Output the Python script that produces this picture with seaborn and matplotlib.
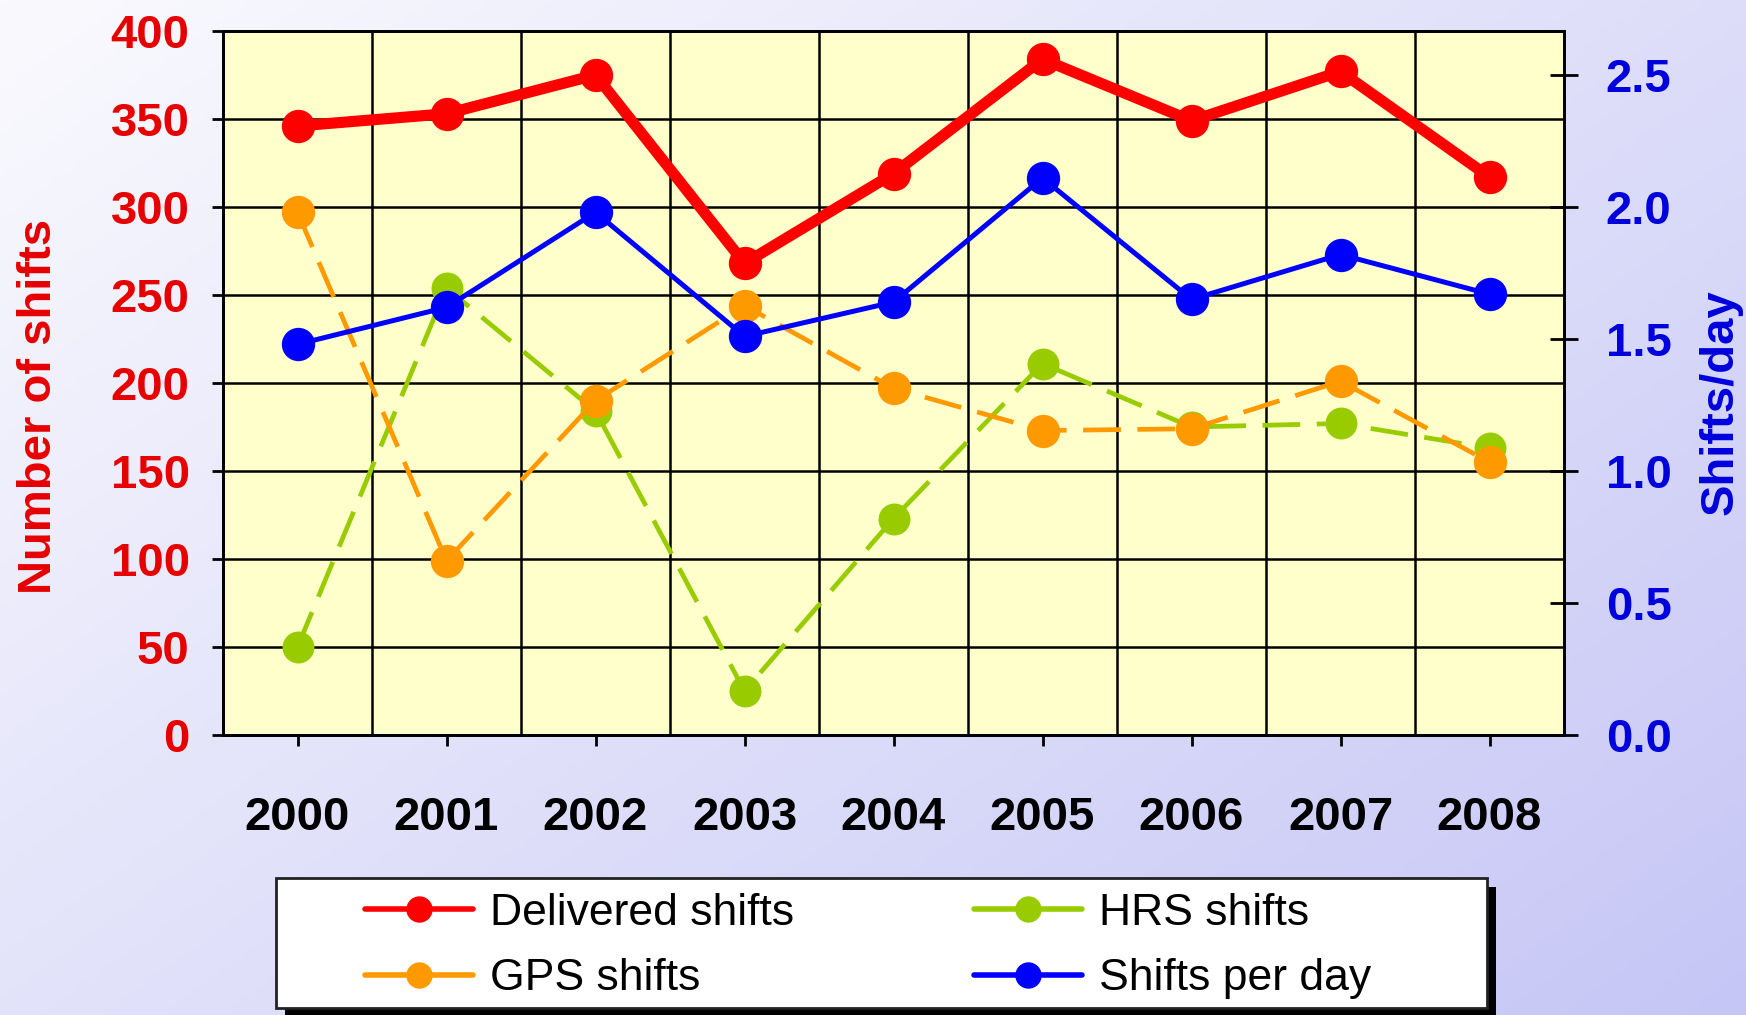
import numpy as np
import pandas as pd
import matplotlib
matplotlib.use("Agg")
import matplotlib.pyplot as plt
from matplotlib.patches import Rectangle
import seaborn as sns

sns.set_style("ticks")
plt.rcParams['font.family'] = ['Liberation Sans', 'DejaVu Sans']
plt.rcParams['text.color'] = 'black'
plt.rcParams['xtick.color'] = 'black'
plt.rcParams['ytick.color'] = 'black'

# datos
years = [2000, 2001, 2002, 2003, 2004, 2005, 2006, 2007, 2008]
delivered = [346, 353, 375, 268, 319, 384, 349, 377, 317]
gps = [297, 99, 190, 244, 197, 173, 174, 201, 155]
hrs = [50, 254, 184, 25, 123, 211, 175, 177, 163]
per_day = [1.48, 1.62, 1.98, 1.51, 1.64, 2.11, 1.65, 1.82, 1.67]

left_ticks = [0, 50, 100, 150, 200, 250, 300, 350, 400]
right_ticks = [0.0, 0.5, 1.0, 1.5, 2.0, 2.5]

df = pd.DataFrame({'year': years, 'delivered': delivered, 'gps': gps,
                   'hrs': hrs, 'per_day': per_day})

W, H = 1746, 1015
fig = plt.figure(figsize=(W / 100, H / 100), dpi=100)

# fondo degradado
bg = fig.add_axes([0, 0, 1, 1], zorder=-10)
bg.axis('off')
yy, xx = np.mgrid[0:1:300j, 0:1:300j]
t = 0.55 * xx + 0.45 * yy
c0 = np.array([250, 250, 254]) / 255
c1 = np.array([198, 198, 246]) / 255
bg.imshow(c0 + (c1 - c0) * t[..., None], extent=[0, 1, 0, 1],
          aspect='auto', origin='upper')

ax1 = fig.add_axes([223 / W, 1 - 735 / H, (1564 - 223) / W, (735 - 31) / H])
ax1.set_facecolor('#FFFFCC')
ax2 = ax1.twinx()

red = '#FF0000'
orange = '#FF9900'
green = '#99CC00'
blue = '#0000FF'
dash = (0, (8, 3.5))

sns.lineplot(data=df, x='year', y='hrs', color=green, linewidth=3.4,
             linestyle=dash, marker='o', markersize=23, markeredgewidth=0,
             label='HRS shifts', errorbar=None, ax=ax1)
sns.lineplot(data=df, x='year', y='gps', color=orange, linewidth=3.4,
             linestyle=dash, marker='o', markersize=24, markeredgewidth=0,
             label='GPS shifts', errorbar=None, ax=ax1)
sns.lineplot(data=df, x='year', y='delivered', color=red, linewidth=8,
             marker='o', markersize=24, markeredgewidth=0,
             label='Delivered shifts', errorbar=None, ax=ax1)
sns.lineplot(data=df, x='year', y='per_day', color=blue, linewidth=3.6,
             marker='o', markersize=24, markeredgewidth=0,
             label='Shifts per day', errorbar=None, ax=ax2)

for ax in (ax1, ax2):
    if ax.get_legend() is not None:
        ax.get_legend().remove()
    for s in ax.spines.values():
        s.set_color('black')
        s.set_linewidth(2)

ax1.set_xlim(years[0] - 0.5, years[-1] + 0.5)
ax1.set_xticks(years)
ax1.set_xticklabels([str(y) for y in years])
ax1.set_xticks(np.array(years[:-1]) + 0.5, minor=True)
ax1.set_ylim(0, 400)
ax1.set_yticks(left_ticks)
ax2.set_ylim(0, 400 / 150)
ax2.set_yticks(right_ticks)
ax2.set_yticklabels([f'{v:.1f}' for v in right_ticks])

ax1.grid(which='major', axis='y', color='black', linewidth=1.8)
ax1.grid(which='minor', axis='x', color='black', linewidth=1.8)
ax1.grid(which='major', axis='x', visible=False)
ax1.set_axisbelow(True)

ax1.tick_params(axis='x', which='major', direction='out', length=8, width=2,
                pad=36, labelsize=34, color='black', labelcolor='black')
ax1.tick_params(axis='x', which='minor', length=0)
ax1.tick_params(axis='y', direction='out', length=8, width=2, pad=16,
                labelsize=34, labelcolor='#E60000')
ax2.tick_params(axis='y', direction='inout', length=20, width=2, pad=20,
                labelsize=34, labelcolor='#0000DD')
for lab in ax1.get_xticklabels() + ax1.get_yticklabels() + ax2.get_yticklabels():
    lab.set_fontweight('bold')

ax1.set_xlabel('')
ax1.set_ylabel('Number of shifts', fontsize=34, fontweight='bold', color='#E60000')
ax1.yaxis.set_label_coords(-0.137, 0.467)
ax1.yaxis.label.set_verticalalignment('center')
ax2.set_ylabel('Shifts/day', fontsize=34, fontweight='bold', color='#0000DD',
               rotation=90)
ax2.yaxis.set_label_coords(1.117, 0.473)
ax2.yaxis.label.set_verticalalignment('center')

# caja de la leyenda con sombra
x0, x1, y0, y1 = 276, 1487, 878, 1008
fig.add_artist(Rectangle(((x0 + 9) / W, 1 - (y1 + 9) / H), (x1 - x0) / W,
                         (y1 - y0) / H, transform=fig.transFigure,
                         facecolor='black', edgecolor='none', zorder=1))
fig.add_artist(Rectangle((x0 / W, 1 - y1 / H), (x1 - x0) / W, (y1 - y0) / H,
                         transform=fig.transFigure, facecolor='white',
                         edgecolor='#222222', linewidth=2, zorder=2))

h1, l1 = ax1.get_legend_handles_labels()
h2, l2 = ax2.get_legend_handles_labels()
hd = dict(zip(l1 + l2, h1 + h2))
order = ['Delivered shifts', 'GPS shifts', 'HRS shifts', 'Shifts per day']
leg = fig.legend([hd[k] for k in order], order, ncol=2, loc='center left',
                 bbox_to_anchor=(365 / W, 1 - 946 / H), frameon=False,
                 fontsize=32, borderpad=0, borderaxespad=0, handlelength=2.43,
                 handletextpad=0.38, columnspacing=4.05, labelspacing=0.56)
leg.set_zorder(3)
for text in leg.get_texts():
    text.set_color('black')
for line in leg.get_lines():
    line.set_linestyle('-')
    line.set_linewidth(4)
    line.set_markersize(19)

fig.savefig('out.png', dpi=100)
